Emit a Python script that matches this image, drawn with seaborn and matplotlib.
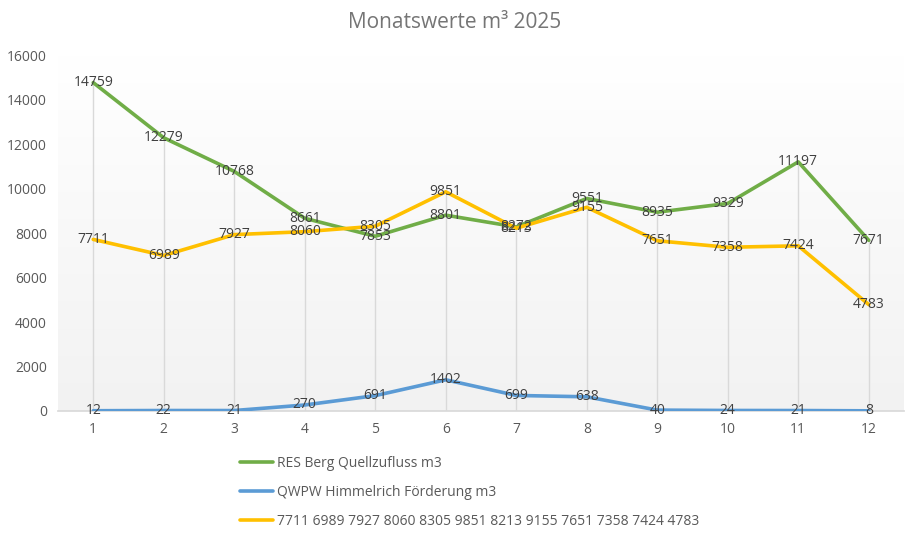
import numpy as np
import pandas as pd
import matplotlib
matplotlib.use("Agg")
import matplotlib.pyplot as plt
import seaborn as sns
from matplotlib.colors import LinearSegmentedColormap

# Monthly values
months = list(range(1, 13))
res_berg = [14759, 12279, 10768, 8661, 7853, 8801, 8272, 9551, 8935, 9329, 11197, 7671]
qwpw = [12, 22, 21, 270, 691, 1402, 699, 638, 40, 24, 21, 8]
third = [7711, 6989, 7927, 8060, 8305, 9851, 8213, 9155, 7651, 7358, 7424, 4783]

names = ["RES Berg Quellzufluss m3", "QWPW Himmelrich Förderung m3",
         " ".join(str(v) for v in third)]
colors = ["#70AD47", "#5B9BD5", "#FFC000"]

df = pd.DataFrame({
    "Monat": months * 3,
    "Wert": res_berg + qwpw + third,
    "Serie": [names[0]] * 12 + [names[1]] * 12 + [names[2]] * 12,
})

sns.set_theme(style="white")
plt.rcParams["font.family"] = ["Open Sans", "DejaVu Sans"]

fig = plt.figure(figsize=(9.09, 5.37), dpi=100)
ax = fig.add_axes([58 / 909, 1 - 411 / 537, 846 / 909, 356 / 537])

# soft background gradient in the plot area (white on top, light grey below)
grad = LinearSegmentedColormap.from_list("bg", ["#ffffff", "#f2f2f2"])
ax.imshow(np.linspace(0, 1, 256).reshape(-1, 1), cmap=grad, aspect="auto",
          extent=[0.5, 12.5, 0, 16000], origin="upper", zorder=0)

# drop lines from the highest value down to the axis
tops = np.maximum(np.maximum(res_berg, qwpw), third)
ax.vlines(months, 0, tops, color="#d9d9d9", lw=1, zorder=1)

sns.lineplot(data=df, x="Monat", y="Wert", hue="Serie", hue_order=names,
             palette=colors, linewidth=2.6, ax=ax, zorder=3)

for vals in (res_berg, qwpw, third):
    for m, v in zip(months, vals):
        ax.text(m, v, str(v), ha="center", va="center", fontsize=10,
                color="#404040", zorder=5)

ax.set_xlim(0.5, 12.5)
ax.set_ylim(0, 16000)
ax.set_xticks(months)
ax.set_yticks(range(0, 16001, 2000))
ax.tick_params(axis="both", labelsize=10, labelcolor="#595959", length=0, pad=8)
ax.set_xlabel("")
ax.set_ylabel("")
for s in ["top", "right", "left"]:
    ax.spines[s].set_visible(False)
ax.spines["bottom"].set_color("#d9d9d9")
ax.grid(False)

fig.suptitle("Monatswerte m³ 2025", y=0.978, fontsize=15, color="#757575")

sns.move_legend(ax, "upper left", bbox_to_anchor=(240 / 909, 1 - 456 / 537),
                bbox_transform=fig.transFigure, frameon=False, title=None,
                fontsize=10, labelspacing=1.0, handlelength=2.4, handletextpad=0.3,
                borderaxespad=0, borderpad=0)
for t in ax.get_legend().get_texts():
    t.set_color("#595959")

fig.savefig("out.png", dpi=100, facecolor="white")
